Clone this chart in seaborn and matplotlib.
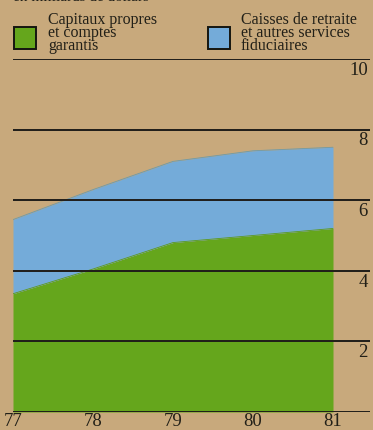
import matplotlib
matplotlib.use("Agg")
import matplotlib.pyplot as plt
from matplotlib.patches import Rectangle
import seaborn as sns
import pandas as pd

# Données (milliards de dollars)
annees = [77, 78, 79, 80, 81]
capitaux_propres = [3.35, 4.05, 4.8, 5.0, 5.2]
caisses_retraite = [2.1, 2.25, 2.3, 2.4, 2.3]
graduations = [2, 4, 6, 8, 10]
etiquettes_x = ["77", "78", "79", "80", "81"]

FOND = "#c8a97c"
VERT = "#65a61c"
BLEU = "#74abd9"
TRAIT = "#1f1d19"
ENCRE = "#222018"

sns.set_style("white")
plt.rcParams["font.family"] = ["Liberation Serif", "DejaVu Serif"]

df = pd.DataFrame({"annee": annees, "vert": capitaux_propres, "bleu": caisses_retraite})
df["total"] = df["vert"] + df["bleu"]

fig = plt.figure(figsize=(3.73, 4.30), dpi=100, facecolor=FOND)
ax = fig.add_axes([13 / 373, 18 / 430, 357 / 373, 353 / 430])
ax.set_facecolor(FOND)

ax.fill_between(df["annee"], 0, df["vert"], color=VERT, lw=0, zorder=1)
ax.fill_between(df["annee"], df["vert"], df["total"], color=BLEU, lw=0, zorder=1)
sns.lineplot(data=df, x="annee", y="total", ax=ax, color="#6e9aa8", lw=0.6, zorder=2)
sns.lineplot(data=df, x="annee", y="vert", ax=ax, color="#5c9a1c", lw=0.6, zorder=2)

for g in [0] + graduations:
    ax.axhline(g, color=TRAIT, lw=1.4, zorder=3)

for g in graduations:
    ax.annotate(str(g), xy=(1.0, g), xycoords=("axes fraction", "data"),
                xytext=(-1.5, -2), textcoords="offset points",
                ha="right", va="top", fontsize=13.5, color=ENCRE)

ax.set_xlim(77, 77 + 357 / 80)
ax.set_ylim(0, 10)
ax.set_xticks(annees)
ax.set_xticklabels(etiquettes_x, fontsize=13.5, color=ENCRE)
ax.tick_params(axis="x", length=0, pad=0.5)
ax.set_yticks([])
ax.set_xlabel("")
ax.set_ylabel("")
for s in ax.spines.values():
    s.set_visible(False)

# Titre d'unité et légende
fig.text(13 / 373, 1 + 3 / 430, "en milliards de dollars", ha="left", va="center",
         fontsize=11, color=ENCRE)

def carre(x, y, couleur):
    fig.patches.append(Rectangle((x / 373, 1 - (y + 22) / 430), 22 / 373, 22 / 430,
                                 transform=fig.transFigure, facecolor=couleur,
                                 edgecolor="#151510", lw=1.4))

carre(14, 27, VERT)
carre(208, 27, BLEU)
fig.text(48 / 373, 1 - 12 / 430, "Capitaux propres\net comptes\ngarantis",
         ha="left", va="top", fontsize=11.5, linespacing=0.74, color=ENCRE)
fig.text(241 / 373, 1 - 12 / 430, "Caisses de retraite\net autres services\nfiduciaires",
         ha="left", va="top", fontsize=11.5, linespacing=0.74, color=ENCRE)

fig.savefig("out.png", dpi=100, facecolor=FOND)
